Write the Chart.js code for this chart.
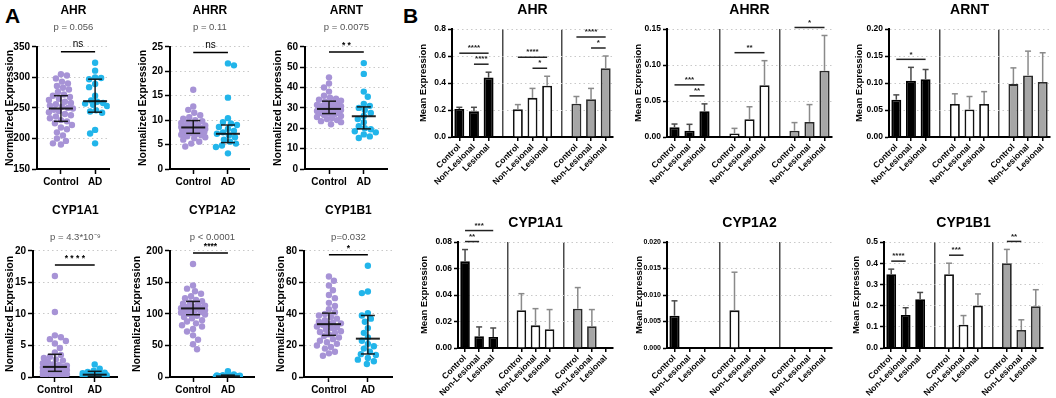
<!DOCTYPE html>
<html>
<head>
<meta charset="utf-8">
<script src="https://cdn.jsdelivr.net/npm/chart.js@4.4.1/dist/chart.umd.min.js"></script>
<style>
  html, body { margin: 0; padding: 0; background: #fff; }
  #figure { position: relative; width: 1056px; height: 398px; overflow: hidden;
            font-family: 'Liberation Sans', Arial, Helvetica, sans-serif; }
  .letter { position: absolute; font-weight: bold; font-size: 21px; }
</style>
</head>
<body>
<div id="figure">
  <div class="letter" style="left:5px;top:4px">A</div>
  <div class="letter" style="left:403px;top:4px">B</div>
</div>
<script>
// ---- Panel A: normalized expression, Control vs AD
const groupsA = ["Control", "AD"];

const ahrControl = [305, 303, 298, 293, 290, 286, 283, 280, 276, 272, 270, 268, 265, 263, 260, 258, 256, 254, 252, 250,
  249, 247, 245, 243, 240, 238, 236, 233, 230, 228, 225, 222, 218, 215, 210, 205, 200, 196, 192, 190];
const ahrAD = [324, 311, 300, 299, 297, 289, 284, 270, 262, 260, 258, 257, 255, 253, 246, 244, 242, 214, 208, 192];
const ahrMean = [249, 261];
const ahrLow = [228, 243];
const ahrHigh = [270, 297];

const ahrrControl = [16.2, 12.8, 12.1, 11.5, 11, 10.6, 10.3, 10, 9.8, 9.6, 9.4, 9.2, 9, 8.9, 8.8, 8.7, 8.6, 8.5, 8.4, 8.3,
  8.2, 8.1, 8.0, 7.9, 7.8, 7.7, 7.6, 7.5, 7.4, 7.3, 7.2, 7.0, 6.9, 6.7, 6.5, 6.3, 6.0, 5.6, 5.2, 4.6];
const ahrrAD = [21.6, 21.2, 14.6, 10.4, 9.6, 9.3, 9.0, 8.6, 8.2, 7.8, 7.5, 7.2, 6.9, 6.5, 6.0, 5.6, 5.2, 4.8, 4.5, 3.2];
const ahrrMean = [8.5, 7.2];
const ahrrLow = [7.3, 5.4];
const ahrrHigh = [9.9, 9.0];

const arntControl = [45, 42, 40, 38, 36, 35, 34.5, 34, 33.5, 33, 32.5, 32, 31.5, 31.2, 31, 30.8, 30.5, 30.2, 30, 29.8,
  29.5, 29.2, 29, 28.7, 28.5, 28.2, 28, 27.7, 27.5, 27.2, 27, 26.5, 26, 25.5, 25, 24.5, 24, 23.5, 23, 22];
const arntAD = [52, 46.7, 38, 35.5, 32, 31, 30, 29, 27.5, 26, 24.5, 23, 21, 20, 19.5, 18.5, 18, 17, 16, 15.2];
const arntMean = [29.5, 25.9];
const arntLow = [27.2, 19.7];
const arntHigh = [33.3, 30.5];

const cyp1a1Control = [16.0, 10.3, 6.6, 6.3, 6.0, 5.7, 5.3, 4.6, 3.9, 3.5, 3.2, 3.0, 2.8, 2.6, 2.4, 2.2, 2.0, 1.9, 1.8, 1.7,
  1.6, 1.5, 1.4, 1.3, 1.2, 1.1, 1.0, 0.9, 0.8, 0.7, 0.6, 0.5, 0.45, 0.4, 0.35, 0.3, 0.25, 0.2, 0.15, 0.1];
const cyp1a1AD = [2.0, 1.3, 1.0, 0.8, 0.7, 0.6, 0.5, 0.45, 0.4, 0.35, 0.3, 0.3, 0.25, 0.2, 0.2, 0.15, 0.1, 0.1, 0.05, 0.02];
const cyp1a1Mean = [1.6, 0.37];
const cyp1a1Low = [0.9, 0.1];
const cyp1a1High = [3.6, 0.9];

const cyp1a2Control = [179, 145, 140, 136, 132, 128, 125, 122, 120, 118, 116, 115, 113, 112, 111, 110, 109, 108, 107, 106,
  105, 104, 103, 102, 100, 99, 97, 95, 93, 90, 88, 85, 82, 80, 76, 72, 66, 59, 52, 44];
const cyp1a2AD = [9, 4, 3, 2.5, 2, 1.6, 1.3, 1.1, 0.9, 0.8, 0.6, 0.5, 0.4, 0.3, 0.3, 0.2, 0.15, 0.1, 0.05, 0.02];
const cyp1a2Mean = [108.7, 1];
const cyp1a2Low = [98.7, 0.2];
const cyp1a2High = [119.8, 3];

const cyp1b1Control = [63.7, 61, 58, 55, 52, 50, 47, 45, 43, 41, 40, 39, 38, 37, 36, 35, 34.5, 34, 33.5, 33,
  32, 31.5, 31, 30, 29, 28.5, 28, 27, 26, 25, 24, 23, 22, 21, 20, 19, 18, 16, 15, 13.5];
const cyp1b1AD = [70.5, 54.2, 53.2, 40.5, 39, 37, 35, 31, 28, 25, 23, 21, 19.5, 18, 16, 14.5, 14, 12, 11, 10, 8.2];
const cyp1b1Mean = [33.5, 24.3];
const cyp1b1Low = [26.4, 14.6];
const cyp1b1High = [40.5, 39];

// ---- Panel B: mean expression (+ upper error) for 3 cohorts x 3 sample types
const bCategories = ["Control", "Non-Lesional", "Lesional"];

const bAhrMean = [0.207, 0.19, 0.44, 0.205, 0.29, 0.38, 0.247, 0.28, 0.51];
const bAhrUpper = [0.22, 0.22, 0.48, 0.24, 0.36, 0.45, 0.30, 0.36, 0.60];
const bAhrSig = [[1, 2, "****"], [0, 2, "****"], [4, 5, "*"], [3, 5, "****"], [7, 8, "*"], [6, 8, "****"]];

const bAhrrMean = [0.0134, 0.0088, 0.0357, 0.005, 0.0246, 0.072, 0.0088, 0.021, 0.092];
const bAhrrUpper = [0.018, 0.0176, 0.046, 0.012, 0.042, 0.106, 0.02, 0.045, 0.141];
const bAhrrSig = [[1, 2, "**"], [0, 2, "***"], [3, 5, "**"], [6, 8, "*"]];

const bArntMean = [0.069, 0.104, 0.107, 0.061, 0.051, 0.061, 0.098, 0.114, 0.102];
const bArntUpper = [0.078, 0.129, 0.125, 0.080, 0.075, 0.084, 0.128, 0.159, 0.156];
const bArntSig = [[0, 2, "*"]];

const bCyp1a1Mean = [0.0654, 0.0088, 0.0083, 0.0285, 0.0171, 0.0141, 0.0297, 0.0164, null];
const bCyp1a1Upper = [0.0743, 0.0159, 0.0151, 0.041, 0.0297, 0.029, 0.0456, 0.029, null];
const bCyp1a1Sig = [[0, 1, "**"], [0, 2, "***"]];

const bCyp1a2Mean = [0.0061, null, null, 0.0071, null, null, null, null, null];
const bCyp1a2Upper = [0.0089, null, null, 0.0143, null, null, null, null, null];
const bCyp1a2Sig = [];

const bCyp1b1Mean = [0.348, 0.156, 0.23, 0.348, 0.11, 0.2, 0.40, 0.085, 0.197];
const bCyp1b1Upper = [0.372, 0.19, 0.262, 0.40, 0.153, 0.255, 0.465, 0.133, 0.275];
const bCyp1b1Sig = [[0, 1, "****"], [3, 4, "***"], [6, 7, "**"]];

// ---- styling
Chart.defaults.font.family = "'Liberation Sans', Arial, Helvetica, sans-serif";
Chart.defaults.color = "#000";
Chart.defaults.animation = false;

const dotColors = ["#a793d6", "#22b5ea"];
const barFill = ["#000000", "#ffffff", "#a6a6a6"];
const barBorder = ["#000000", "#111111", "#2b2b2b"];
const errColor = ["#4a4a4a", "#8a8a8a", "#8a8a8a"];
const gridColor = "#c9c9c9";
const clear = "rgba(0,0,0,0)";

const aRows = [
  { top: 0, height: 195, titlePad: { top: 3, bottom: 3 }, subPad: { top: 1, bottom: 14 }, xHeight: 22, padBottom: 4 },
  { top: 198, height: 200, titlePad: { top: 5, bottom: 3 }, subPad: { top: 11, bottom: 8 }, xHeight: 20, padBottom: 1 },
];
const bRows = [
  { top: 0, height: 200, titlePad: { top: 1.6, bottom: 10.6 }, xHeight: 60, padBottom: 3 },
  { top: 200, height: 198, titlePad: { top: 14.6, bottom: 10.6 }, xHeight: 48, padBottom: 2 },
];

function addCanvas(left, top, width, height) {
  const c = document.createElement("canvas");
  c.width = width;
  c.height = height;
  c.style.cssText = `position:absolute;left:${left}px;top:${top}px;width:${width}px;height:${height}px`;
  document.getElementById("figure").appendChild(c);
  return c.getContext("2d");
}

function segment(ctx, x1, y1, x2, y2) {
  ctx.beginPath();
  ctx.moveTo(x1, y1);
  ctx.lineTo(x2, y2);
  ctx.stroke();
}

// simple beeswarm: smallest sideways shift that avoids overlap, capped at maxOffset
function swarmOffsets(pixYs, diameter, maxOffset) {
  const order = pixYs.map((_, i) => i).sort((a, b) => pixYs[a] - pixYs[b]);
  const placed = [];
  const offsets = [];
  order.forEach((i, n) => {
    const py = pixYs[i];
    const near = placed.filter((p) => Math.abs(p.y - py) < diameter);
    let best = 0;
    let bestGap = -1;
    for (let step = 0; step <= maxOffset * 2; step++) {
      const mag = Math.ceil(step / 2);
      const dx = step % 2 === n % 2 ? mag : -mag;
      const gap = near.length ? Math.min(...near.map((p) => Math.hypot(p.x - dx, p.y - py))) : Infinity;
      if (gap >= diameter) { best = dx; break; }
      if (gap > bestGap) { best = dx; bestGap = gap; }
    }
    offsets[i] = best;
    placed.push({ x: best, y: py });
  });
  return offsets;
}

function spreadDots(chart, series) {
  const { x, y } = chart.scales;
  series.forEach((vals, i) => {
    const cx = x.getPixelForValue(i + 1);
    const offs = swarmOffsets(vals.map((v) => y.getPixelForValue(v)), 6, 12);
    chart.data.datasets[i].data = vals.map((v, k) => ({ x: x.getValueForPixel(cx + offs[k]), y: v }));
  });
  chart.update("none");
}

// mean + error bars and the significance bar of a dot plot
function dotSummaryPlugin(cfg) {
  return {
    id: "dotSummary",
    afterDatasetsDraw(chart) {
      const { ctx, scales: { x, y } } = chart;
      ctx.save();
      ctx.strokeStyle = "rgba(15,15,15,0.92)";
      cfg.mean.forEach((m, i) => {
        const cx = x.getPixelForValue(i + 1);
        const yl = y.getPixelForValue(cfg.low[i]);
        const yh = y.getPixelForValue(cfg.high[i]);
        const ym = y.getPixelForValue(m);
        ctx.lineWidth = 1.5;
        segment(ctx, cx, yl, cx, yh);
        segment(ctx, cx - 7, yl, cx + 7, yl);
        segment(ctx, cx - 7, yh, cx + 7, yh);
        ctx.lineWidth = 2;
        segment(ctx, cx - 12, ym, cx + 12, ym);
      });
      const all = cfg.control.concat(cfg.ad);
      const lineY = Math.min(...all.map((v) => y.getPixelForValue(v))) - 11;
      const x1 = x.getPixelForValue(1);
      const x2 = x.getPixelForValue(2);
      ctx.strokeStyle = "#000";
      ctx.lineWidth = 1.5;
      segment(ctx, x1, lineY, x2, lineY);
      ctx.fillStyle = "#000";
      ctx.font = cfg.sig === "ns" ? "10px 'Liberation Sans', Arial, sans-serif"
        : "bold 8.5px 'Liberation Sans', Arial, sans-serif";
      ctx.textAlign = "center";
      ctx.textBaseline = "bottom";
      ctx.fillText(cfg.sig, (x1 + x2) / 2, lineY - 2);
      ctx.restore();
    },
  };
}

function renderDotPlot(cfg) {
  const row = aRows[cfg.row];
  const ctx = addCanvas(cfg.left, row.top, cfg.width, row.height);
  const series = [cfg.control, cfg.ad];
  const chart = new Chart(ctx, {
    type: "scatter",
    data: {
      datasets: series.map((vals, i) => ({
        data: vals.map((v) => ({ x: i + 1, y: v })),
        pointBackgroundColor: dotColors[i],
        pointBorderWidth: 0,
        pointRadius: 3.2,
        pointHoverRadius: 3.2,
      })),
    },
    options: {
      responsive: false,
      events: [],
      layout: { padding: { left: 0, right: 3, top: 0, bottom: row.padBottom } },
      plugins: {
        legend: { display: false },
        tooltip: { enabled: false },
        title: { display: true, text: cfg.title, fullSize: false, color: "#000",
          font: { size: 12, weight: "bold" }, padding: row.titlePad },
        subtitle: { display: true, text: cfg.p, fullSize: false, color: "#555",
          font: { size: 9.5 }, padding: row.subPad },
      },
      scales: {
        x: {
          type: "linear",
          min: cfg.xMin,
          max: cfg.xMax,
          afterBuildTicks: (s) => { s.ticks = groupsA.map((g, i) => ({ value: i + 1 })); },
          afterFit: (s) => { s.height = row.xHeight; },
          ticks: { callback: (v) => groupsA[v - 1], font: { size: 10, weight: "bold" }, padding: 2,
            maxRotation: 0, autoSkip: false },
          grid: { drawOnChartArea: false, tickLength: 5, tickColor: "#000", tickWidth: 1.5 },
          border: { color: "#000", width: 2 },
        },
        y: {
          min: cfg.yMin,
          max: cfg.yMax,
          afterFit: (s) => { s.width = cfg.yWidth; },
          ticks: { stepSize: cfg.yStep, font: { size: 10, weight: "bold" }, padding: 2 },
          title: { display: true, text: "Normalized Expression", font: { size: 10.5, weight: "bold" },
            padding: { top: 4, bottom: 2 } },
          grid: { color: (c) => (c.index === 0 ? clear : gridColor), lineWidth: 1,
            tickLength: 5, tickColor: "#000", tickWidth: 1.5 },
          border: { color: "#000", width: 2, dash: [1.5, 3] },
        },
      },
    },
    plugins: [dotSummaryPlugin(cfg)],
  });
  spreadDots(chart, series);
}

// ---- panel B helpers: 3 cohorts separated by an empty slot holding the divider
const barLabels = [...bCategories, "", ...bCategories, "", ...bCategories];
const isGap = (k) => k === 3 || k === 7;
const barPos = (i) => i + Math.floor(i / 3);
const withGaps = (vals) => barLabels.map((l, k) => (isGap(k) ? null : vals[k - Math.floor(k / 4)]));

function barExtrasPlugin(cfg) {
  return {
    id: "barExtras",
    afterDatasetsDraw(chart) {
      const { ctx, scales: { x, y } } = chart;
      ctx.save();
      ctx.lineWidth = 1.5;
      cfg.upper.forEach((u, i) => {
        if (u == null) return;
        const cx = x.getPixelForValue(barPos(i));
        const y0 = y.getPixelForValue(cfg.mean[i]);
        const y1 = y.getPixelForValue(u);
        ctx.strokeStyle = errColor[Math.floor(i / 3)];
        segment(ctx, cx, y0, cx, y1);
        segment(ctx, cx - 3, y1, cx + 3, y1);
      });
      const placed = [];
      ctx.font = "bold 8px 'Liberation Sans', Arial, sans-serif";
      ctx.textAlign = "center";
      ctx.textBaseline = "bottom";
      ctx.fillStyle = "#222";
      ctx.strokeStyle = "#222";
      cfg.sig.forEach(([a, b, label]) => {
        const g = Math.floor(a / 3);
        const span = [];
        for (let i = a; i <= b; i++) span.push(cfg.upper[i] ?? cfg.mean[i] ?? 0);
        let lineY = Math.min(...span.map((v) => y.getPixelForValue(v))) - 8;
        placed.filter((p) => p.g === g).forEach((p) => { lineY = Math.min(lineY, p.y - 11); });
        placed.push({ g, y: lineY });
        const x1 = x.getPixelForValue(barPos(a));
        const x2 = x.getPixelForValue(barPos(b));
        segment(ctx, x1, lineY, x2, lineY);
        ctx.fillText(label, (x1 + x2) / 2, lineY - 1);
      });
      ctx.restore();
    },
  };
}

function renderBarPanel(cfg) {
  const row = bRows[cfg.row];
  const ctx = addCanvas(cfg.left, row.top, cfg.width, row.height);
  const groupOf = (k) => Math.floor(k / 4);
  new Chart(ctx, {
    type: "bar",
    data: {
      labels: barLabels,
      datasets: [{
        data: withGaps(cfg.mean),
        backgroundColor: barLabels.map((l, k) => barFill[groupOf(k)]),
        borderColor: barLabels.map((l, k) => barBorder[groupOf(k)]),
        borderWidth: 1.8,
        barPercentage: 0.68,
        categoryPercentage: 1,
      }],
    },
    options: {
      responsive: false,
      events: [],
      layout: { padding: { left: 0, right: 3, top: 0, bottom: row.padBottom } },
      plugins: {
        legend: { display: false },
        tooltip: { enabled: false },
        title: { display: true, text: cfg.title, fullSize: false, color: "#000",
          font: { size: 14, weight: "bold" }, padding: row.titlePad },
      },
      scales: {
        x: {
          afterFit: (s) => { s.height = row.xHeight; },
          ticks: { font: { size: 8.5, weight: "bold" }, minRotation: 45, maxRotation: 45, autoSkip: false, padding: 1 },
          grid: {
            offset: false,
            color: (c) => (isGap(c.index) ? "#4a4a4a" : clear),
            lineWidth: 1.5,
            tickLength: 4,
            tickColor: (c) => (isGap(c.index) ? clear : "#000"),
            tickWidth: 1.5,
          },
          border: { color: "#000", width: 2 },
        },
        y: {
          min: 0,
          max: cfg.max,
          afterFit: (s) => { s.width = cfg.yWidth; },
          ticks: { stepSize: cfg.step, callback: (v) => v.toFixed(cfg.dec),
            font: { size: cfg.tickSize || 8.5, weight: "bold" }, padding: 2 },
          title: { display: true, text: "Mean Expression", font: { size: 9.5, weight: "bold" },
            padding: { top: 4, bottom: 2 } },
          grid: { color: (c) => (c.index === 0 ? clear : gridColor), lineWidth: 1,
            tickLength: 4, tickColor: "#000", tickWidth: 1.5 },
          border: { color: "#000", width: 2, dash: [1.5, 3] },
        },
      },
    },
    plugins: [barExtrasPlugin(cfg)],
  });
}

// ---- render panel A
renderDotPlot({ row: 0, left: 0, width: 113, yWidth: 37, title: "AHR", p: "p = 0.056", sig: "ns",
  control: ahrControl, ad: ahrAD, mean: ahrMean, low: ahrLow, high: ahrHigh,
  yMin: 150, yMax: 350, yStep: 50, xMin: 0.3, xMax: 2.43 });
renderDotPlot({ row: 0, left: 133, width: 120, yWidth: 37, title: "AHRR", p: "p = 0.11", sig: "ns",
  control: ahrrControl, ad: ahrrAD, mean: ahrrMean, low: ahrrLow, high: ahrrHigh,
  yMin: 0, yMax: 25, yStep: 5, xMin: 0.33, xMax: 2.63 });
renderDotPlot({ row: 0, left: 268, width: 123, yWidth: 37, title: "ARNT", p: "p = 0.0075", sig: "* *",
  control: arntControl, ad: arntAD, mean: arntMean, low: arntLow, high: arntHigh,
  yMin: 0, yMax: 60, yStep: 10, xMin: 0.31, xMax: 2.69 });
renderDotPlot({ row: 1, left: 0, width: 121, yWidth: 33, title: "CYP1A1", p: "p = 4.3*10\u207B\u2079", sig: "* * * *",
  control: cyp1a1Control, ad: cyp1a1AD, mean: cyp1a1Mean, low: cyp1a1Low, high: cyp1a1High,
  yMin: 0, yMax: 20, yStep: 5, xMin: 0.45, xMax: 2.58 });
renderDotPlot({ row: 1, left: 127, width: 131, yWidth: 43, title: "CYP1A2", p: "p < 0.0001", sig: "****",
  control: cyp1a2Control, ad: cyp1a2AD, mean: cyp1a2Mean, low: cyp1a2Low, high: cyp1a2High,
  yMin: 0, yMax: 200, yStep: 50, xMin: 0.34, xMax: 2.77 });
renderDotPlot({ row: 1, left: 271, width: 125, yWidth: 33, title: "CYP1B1", p: "p=0.032", sig: "*",
  control: cyp1b1Control, ad: cyp1b1AD, mean: cyp1b1Mean, low: cyp1b1Low, high: cyp1b1High,
  yMin: 0, yMax: 80, yStep: 20, xMin: 0.36, xMax: 2.64 });

// ---- render panel B
renderBarPanel({ row: 0, left: 414, width: 202, yWidth: 38, title: "AHR",
  mean: bAhrMean, upper: bAhrUpper, sig: bAhrSig, max: 0.8, step: 0.2, dec: 1 });
renderBarPanel({ row: 0, left: 629, width: 206, yWidth: 38, title: "AHRR",
  mean: bAhrrMean, upper: bAhrrUpper, sig: bAhrrSig, max: 0.15, step: 0.05, dec: 2 });
renderBarPanel({ row: 0, left: 850, width: 203, yWidth: 39, title: "ARNT",
  mean: bArntMean, upper: bArntUpper, sig: bArntSig, max: 0.2, step: 0.05, dec: 2 });
renderBarPanel({ row: 1, left: 415, width: 201, yWidth: 43, title: "CYP1A1",
  mean: bCyp1a1Mean, upper: bCyp1a1Upper, sig: bCyp1a1Sig, max: 0.08, step: 0.02, dec: 2 });
renderBarPanel({ row: 1, left: 630, width: 205, yWidth: 37, title: "CYP1A2", tickSize: 7,
  mean: bCyp1a2Mean, upper: bCyp1a2Upper, sig: bCyp1a2Sig, max: 0.02, step: 0.005, dec: 3 });
renderBarPanel({ row: 1, left: 847, width: 199, yWidth: 37, title: "CYP1B1",
  mean: bCyp1b1Mean, upper: bCyp1b1Upper, sig: bCyp1b1Sig, max: 0.5, step: 0.1, dec: 1 });
</script>
</body>
</html>
